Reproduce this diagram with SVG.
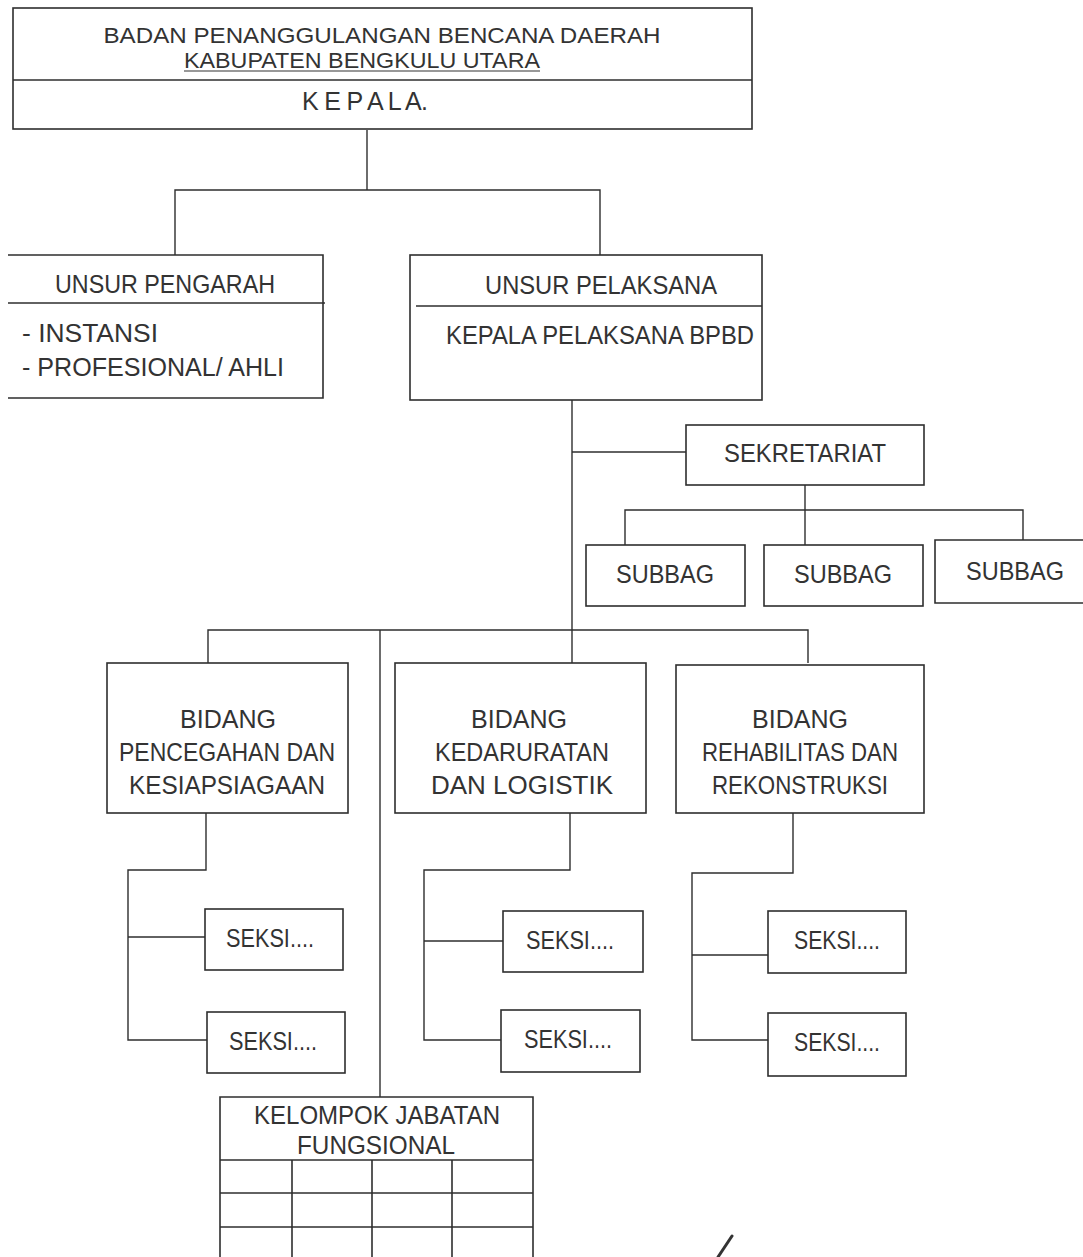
<svg xmlns="http://www.w3.org/2000/svg" width="1083" height="1257" viewBox="0 0 1083 1257">
<style>
.b{fill:none;stroke:#2e2e2e;stroke-width:1.6}
.c line,.c path{fill:none;stroke:#2e2e2e;stroke-width:1.4}
text{font-family:"Liberation Sans",Arial,sans-serif;font-size:25px;fill:#333;text-anchor:middle}
.l{text-anchor:start}
.t{font-size:22px}
</style>
<rect width="1083" height="1257" fill="#fff"/>
<g class="c" id="connectors">
<line x1="367" y1="130" x2="367" y2="190"/>
<path d="M175 255V190H600V255"/>
<path d="M572 400V663"/>
<line x1="572" y1="452" x2="686" y2="452"/>
<path d="M805 485V510"/>
<path d="M625 545V510H1023V540"/>
<line x1="805" y1="510" x2="805" y2="545"/>
<path d="M208 663V630H808V663"/>
<line x1="380" y1="630" x2="380" y2="1097"/>
<path d="M206 813V870H128V1040H207"/>
<line x1="128" y1="937" x2="205" y2="937"/>
<path d="M570 813V870H424V1040H501"/>
<line x1="424" y1="941" x2="503" y2="941"/>
<path d="M793 813V873H692V1040H768"/>
<line x1="692" y1="955" x2="768" y2="955"/>
</g>
<g id="kepala">
<rect class="b" x="13" y="8" width="739" height="121"/>
<line class="b" x1="13" y1="80" x2="752" y2="80"/>
<text class="t" x="382" y="43" textLength="557" lengthAdjust="spacingAndGlyphs">BADAN PENANGGULANGAN BENCANA DAERAH</text>
<text class="t" x="362" y="68" textLength="356" lengthAdjust="spacingAndGlyphs">KABUPATEN BENGKULU UTARA</text>
<line x1="184" y1="71" x2="540" y2="71" stroke="#333" stroke-width="1.2"/>
<text x="365" y="110" font-size="22" textLength="126" lengthAdjust="spacing">K E P A L A.</text>
</g>
<g id="unsur-pengarah">
<path class="b" d="M8 255H323V398H8"/>
<line class="b" x1="8" y1="303" x2="325" y2="303"/>
<text x="165" y="293" textLength="220" lengthAdjust="spacingAndGlyphs">UNSUR PENGARAH</text>
<text class="l" x="22" y="342" textLength="136" lengthAdjust="spacingAndGlyphs">- INSTANSI</text>
<text class="l" x="22" y="376" textLength="262" lengthAdjust="spacingAndGlyphs">- PROFESIONAL/ AHLI</text>
</g>
<g id="unsur-pelaksana">
<rect class="b" x="410" y="255" width="352" height="145"/>
<line class="b" x1="416" y1="306" x2="762" y2="306"/>
<text x="601" y="294" textLength="232" lengthAdjust="spacingAndGlyphs">UNSUR PELAKSANA</text>
<text x="600" y="344" textLength="308" lengthAdjust="spacingAndGlyphs">KEPALA PELAKSANA BPBD</text>
</g>
<g id="sekretariat">
<rect class="b" x="686" y="425" width="238" height="60"/>
<text x="805" y="462" textLength="162" lengthAdjust="spacingAndGlyphs">SEKRETARIAT</text>
</g>
<g id="subbag-1"><rect class="b" x="586" y="545" width="159" height="61"/><text x="665" y="583" textLength="98" lengthAdjust="spacingAndGlyphs">SUBBAG</text></g>
<g id="subbag-2"><rect class="b" x="764" y="545" width="159" height="61"/><text x="843" y="583" textLength="98" lengthAdjust="spacingAndGlyphs">SUBBAG</text></g>
<g id="subbag-3"><path class="b" d="M1085 540H935V603H1085"/><text x="1015" y="580" textLength="98" lengthAdjust="spacingAndGlyphs">SUBBAG</text></g>
<g id="bidang-1">
<rect class="b" x="107" y="663" width="241" height="150"/>
<text x="228" y="728" textLength="96" lengthAdjust="spacingAndGlyphs">BIDANG</text>
<text x="227" y="761" textLength="216" lengthAdjust="spacingAndGlyphs">PENCEGAHAN DAN</text>
<text x="227" y="794" textLength="196" lengthAdjust="spacingAndGlyphs">KESIAPSIAGAAN</text>
</g>
<g id="bidang-2">
<rect class="b" x="395" y="663" width="251" height="150"/>
<text x="519" y="728" textLength="96" lengthAdjust="spacingAndGlyphs">BIDANG</text>
<text x="522" y="761" textLength="174" lengthAdjust="spacingAndGlyphs">KEDARURATAN</text>
<text x="522" y="794" textLength="182" lengthAdjust="spacingAndGlyphs">DAN LOGISTIK</text>
</g>
<g id="bidang-3">
<rect class="b" x="676" y="665" width="248" height="148"/>
<text x="800" y="728" textLength="96" lengthAdjust="spacingAndGlyphs">BIDANG</text>
<text x="800" y="761" textLength="196" lengthAdjust="spacingAndGlyphs">REHABILITAS DAN</text>
<text x="800" y="794" textLength="176" lengthAdjust="spacingAndGlyphs">REKONSTRUKSI</text>
</g>
<g id="seksi-1a"><rect class="b" x="205" y="909" width="138" height="61"/><text x="270" y="947" textLength="88" lengthAdjust="spacingAndGlyphs">SEKSI....</text></g>
<g id="seksi-1b"><rect class="b" x="207" y="1012" width="138" height="61"/><text x="273" y="1050" textLength="88" lengthAdjust="spacingAndGlyphs">SEKSI....</text></g>
<g id="seksi-2a"><rect class="b" x="503" y="911" width="140" height="61"/><text x="570" y="949" textLength="88" lengthAdjust="spacingAndGlyphs">SEKSI....</text></g>
<g id="seksi-2b"><rect class="b" x="501" y="1010" width="139" height="62"/><text x="568" y="1048" textLength="88" lengthAdjust="spacingAndGlyphs">SEKSI....</text></g>
<g id="seksi-3a"><rect class="b" x="768" y="911" width="138" height="62"/><text x="837" y="949" textLength="86" lengthAdjust="spacingAndGlyphs">SEKSI....</text></g>
<g id="seksi-3b"><rect class="b" x="768" y="1013" width="138" height="63"/><text x="837" y="1051" textLength="86" lengthAdjust="spacingAndGlyphs">SEKSI....</text></g>
<g id="kelompok-jabatan-fungsional">
<path class="b" d="M220 1260V1097H533V1260"/>
<line class="b" x1="220" y1="1160" x2="533" y2="1160"/>
<line class="b" x1="220" y1="1193" x2="533" y2="1193"/>
<line class="b" x1="220" y1="1227" x2="533" y2="1227"/>
<line class="b" x1="292" y1="1160" x2="292" y2="1260"/>
<line class="b" x1="372" y1="1160" x2="372" y2="1260"/>
<line class="b" x1="452" y1="1160" x2="452" y2="1260"/>
<text x="377" y="1124" textLength="246" lengthAdjust="spacingAndGlyphs">KELOMPOK JABATAN</text>
<text x="376" y="1154" textLength="158" lengthAdjust="spacingAndGlyphs">FUNGSIONAL</text>
</g>
<path d="M732 1236L718 1257" stroke="#333" stroke-width="3" stroke-linecap="round" fill="none"/>
</svg>
